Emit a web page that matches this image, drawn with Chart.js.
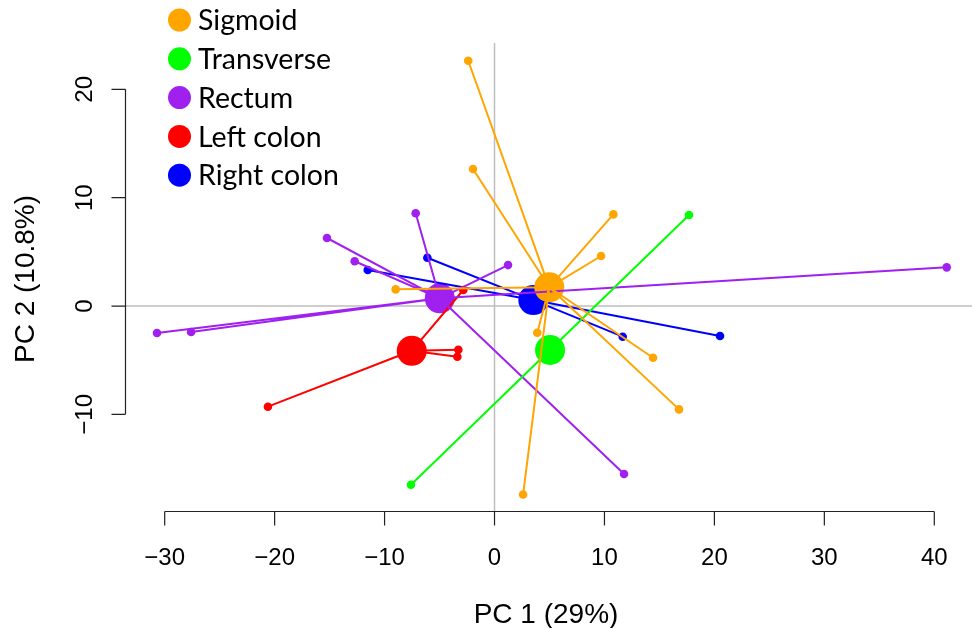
<!DOCTYPE html>
<html><head><meta charset="utf-8">
<script src="https://cdn.jsdelivr.net/npm/chart.js@4.4.0/dist/chart.umd.min.js"></script>
<style>html,body{margin:0;padding:0;background:#fff;overflow:hidden}</style>
</head><body>
<canvas id="c" width="972" height="628"></canvas>
<script>
const groups = ["Sigmoid", "Transverse", "Rectum", "Left colon", "Right colon"];
const colors = ["#FFA500", "#00FF00", "#A020F0", "#FF0000", "#0000FF"];

const sigmoidX = [-2.39, -1.96, 10.81, 9.69, -8.99, 3.89, 14.42, 16.78, 2.6];
const sigmoidY = [22.64, 12.65, 8.46, 4.62, 1.54, -2.46, -4.77, -9.54, -17.4];
const transverseX = [17.69, -7.6];
const transverseY = [8.40, -16.5];
const rectumX = [-7.17, -15.24, -12.72, 1.23, 41.13, -30.7, -27.6, 11.78];
const rectumY = [8.56, 6.28, 4.13, 3.78, 3.57, -2.49, -2.4, -15.51];
const leftColonX = [-2.84, -3.29, -3.38, -20.61];
const leftColonY = [1.48, -4.03, -4.68, -9.29];
const rightColonX = [-11.53, -6.11, 11.66, 20.51];
const rightColonY = [3.32, 4.46, -2.83, -2.77];

const centroidX = [4.98, 5.05, -4.98, -7.53, 3.53];
const centroidY = [1.73, -4.06, 0.71, -4.13, 0.55];

const xTicks = [-30, -20, -10, 0, 10, 20, 30, 40];
const yTicks = [-10, 0, 10, 20];
const xTitle = "PC 1 (29%)";
const yTitle = "PC 2 (10.8%)";

const groupX = [sigmoidX, transverseX, rectumX, leftColonX, rightColonX];
const groupY = [sigmoidY, transverseY, rectumY, leftColonY, rightColonY];

const datasets = [];
groups.forEach((g, i) => {
  const data = [];
  groupX[i].forEach((vx, j) => {
    data.push({x: centroidX[i], y: centroidY[i]});
    data.push({x: vx, y: groupY[i][j]});
    data.push({x: null, y: null});
  });
  datasets.push({
    label: g + " spider", data, showLine: true, spanGaps: false,
    borderColor: colors[i], backgroundColor: colors[i], borderWidth: 2,
    pointRadius: (c) => (c.dataIndex % 3 === 1 ? 4.3 : 0),
    pointBorderWidth: 0, pointBackgroundColor: colors[i], order: 1
  });
});
groups.forEach((g, i) => {
  datasets.push({
    label: g, data: [{x: centroidX[i], y: centroidY[i]}], showLine: false,
    pointRadius: 15, pointBorderWidth: 0, pointBackgroundColor: colors[i],
    backgroundColor: colors[i], borderColor: colors[i], order: 2
  });
});

const FONT = '"Liberation Sans", Arial, sans-serif';
const deco = {
  id: 'deco',
  beforeDatasetsDraw(chart) {
    const {ctx, chartArea: a, scales: {x, y}} = chart;
    ctx.save();
    ctx.strokeStyle = '#bebebe'; ctx.lineWidth = 1.5;
    const x0 = x.getPixelForValue(0), y0 = y.getPixelForValue(0);
    ctx.beginPath();
    ctx.moveTo(x0, a.top); ctx.lineTo(x0, a.bottom);
    ctx.moveTo(a.left, y0); ctx.lineTo(a.right, y0);
    ctx.stroke();
    ctx.restore();
  },
  afterDraw(chart) {
    const {ctx, chartArea: a, scales: {x, y}} = chart;
    ctx.save();
    ctx.strokeStyle = '#222'; ctx.lineWidth = 1.2; ctx.fillStyle = '#000';
    // x axis
    const xa = x.getPixelForValue(xTicks[0]), xb = x.getPixelForValue(xTicks[xTicks.length - 1]);
    const by = Math.round(a.bottom) + 0.5;
    ctx.beginPath();
    ctx.moveTo(xa, by); ctx.lineTo(xb, by);
    xTicks.forEach(t => { const px = x.getPixelForValue(t); ctx.moveTo(px, by); ctx.lineTo(px, by + 14); });
    ctx.stroke();
    ctx.font = '24px ' + FONT; ctx.textAlign = 'center'; ctx.textBaseline = 'alphabetic';
    xTicks.forEach(t => { ctx.fillText(t < 0 ? '\u2212' + Math.abs(t) : String(t), x.getPixelForValue(t), 565); });
    // y axis
    const ya = y.getPixelForValue(yTicks[0]), yb = y.getPixelForValue(yTicks[yTicks.length - 1]);
    const lx = Math.round(a.left) + 0.5;
    ctx.beginPath();
    ctx.moveTo(lx, ya); ctx.lineTo(lx, yb);
    yTicks.forEach(t => { const py = y.getPixelForValue(t); ctx.moveTo(lx, py); ctx.lineTo(lx - 14, py); });
    ctx.stroke();
    yTicks.forEach(t => {
      ctx.save();
      ctx.translate(92, y.getPixelForValue(t));
      ctx.rotate(-Math.PI / 2);
      ctx.fillText(t < 0 ? '\u2212' + Math.abs(t) : String(t), 0, 0);
      ctx.restore();
    });
    // titles
    ctx.font = '28px ' + FONT;
    ctx.fillText(xTitle, 546, 623);
    ctx.save();
    ctx.translate(34, 279); ctx.rotate(-Math.PI / 2);
    ctx.fillText(yTitle, 0, 0);
    ctx.restore();
    // legend
    ctx.font = '28.5px Lato, "Open Sans", sans-serif';
    ctx.textAlign = 'left'; ctx.textBaseline = 'middle';
    groups.forEach((g, i) => {
      const ry = 20 + i * 38.8;
      ctx.fillStyle = colors[i];
      ctx.beginPath(); ctx.arc(179.5, ry, 11.5, 0, Math.PI * 2); ctx.fill();
      ctx.fillStyle = '#000';
      ctx.fillText(g, 198, ry + 1);
    });
    ctx.restore();
  }
};

new Chart(document.getElementById('c'), {
  type: 'scatter',
  data: {datasets},
  options: {
    responsive: false, animation: false, events: [],
    layout: {autoPadding: false, padding: {left: 125, right: 0, top: 43, bottom: 117}},
    plugins: {legend: {display: false}, tooltip: {enabled: false}},
    scales: {
      x: {type: 'linear', display: false, min: -33.61, max: 43.43},
      y: {type: 'linear', display: false, min: -18.92, max: 24.28}
    }
  },
  plugins: [deco]
});
</script>
</body></html>
